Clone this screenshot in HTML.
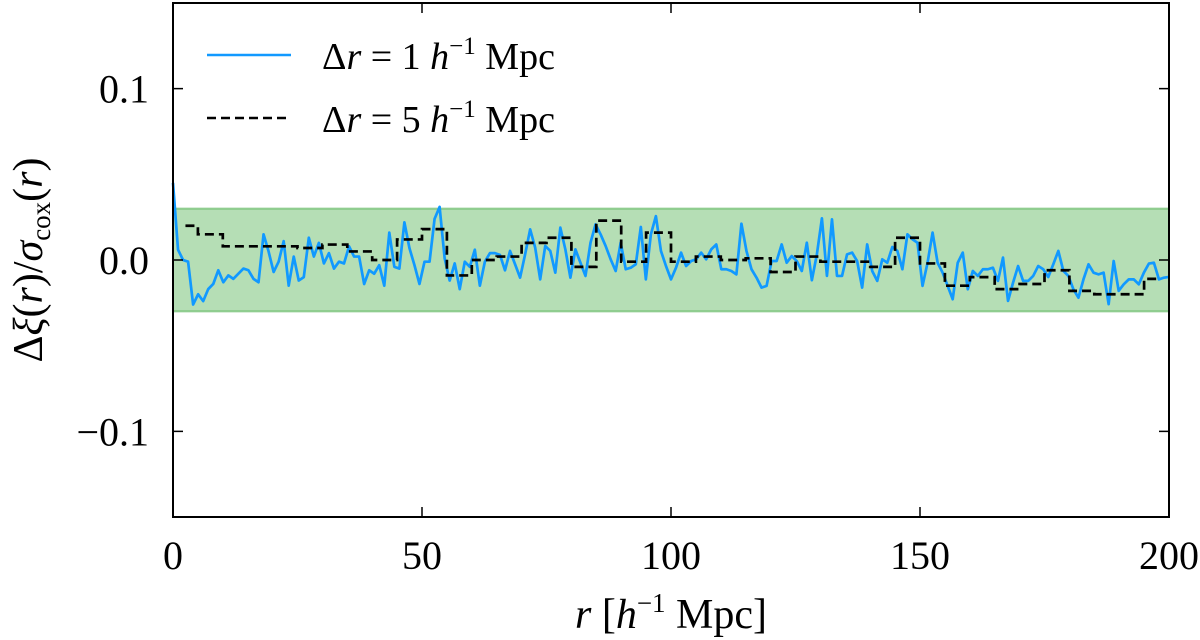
<!DOCTYPE html>
<html><head><meta charset="utf-8">
<style>
html,body{margin:0;padding:0;background:#fff;}
svg{display:block;font-family:"Liberation Serif","DejaVu Serif",serif;}
</style></head>
<body>
<svg id="chart" width="1200" height="640" viewBox="0 0 1200 640" xmlns="http://www.w3.org/2000/svg">
<rect x="0" y="0" width="1200" height="640" fill="#fff"/>
<g id="plot"></g>
<g id="axes"></g>
<g>
  <line x1="207" y1="55" x2="291" y2="55" stroke="#1199ff" stroke-width="2.5"/>
  <text x="322" y="69" font-size="38"><tspan>Δ</tspan><tspan font-style="italic">r</tspan> = 1 <tspan font-style="italic">h</tspan><tspan font-size="25" dy="-15">−1</tspan><tspan dy="15"> Mpc</tspan></text>
  <line x1="207" y1="118" x2="291" y2="118" stroke="#000" stroke-width="2.5" stroke-dasharray="9,5"/>
  <text x="322" y="132" font-size="38"><tspan>Δ</tspan><tspan font-style="italic">r</tspan> = 5 <tspan font-style="italic">h</tspan><tspan font-size="25" dy="-15">−1</tspan><tspan dy="15"> Mpc</tspan></text>
</g>
<text x="671" y="628" font-size="42" text-anchor="middle"><tspan font-style="italic">r</tspan> [<tspan font-style="italic">h</tspan><tspan font-size="27" dy="-16">−1</tspan><tspan dy="16"> Mpc]</tspan></text>
<text transform="translate(42,260) rotate(-90)" font-size="42" text-anchor="middle">Δ<tspan font-style="italic">ξ</tspan>(<tspan font-style="italic">r</tspan>)/<tspan font-style="italic">σ</tspan><tspan font-size="27" dy="8">cox</tspan><tspan dy="-8">(</tspan><tspan font-style="italic">r</tspan>)</text>
</svg>
<script>
const xTicks=[0,50,100,150,200];
const yTicks=[-0.1,0,0.1];
const yTickLabels=["−0.1","0.0","0.1"];
const bandLimits=[-0.03,0.03];
const binnedValues=[0.020,0.015,0.008,0.008,0.008,0.007,0.009,0.005,0.000,0.012,0.018,-0.009,0.000,0.002,0.010,0.013,-0.004,0.023,-0.001,0.016,-0.001,0.002,0.000,0.001,-0.007,0.002,-0.001,-0.001,-0.004,0.013,-0.002,-0.015,-0.010,-0.017,-0.014,-0.006,-0.018,-0.020,-0.020,-0.011];
const fineValues=[0.045,0.006,0.000,-0.001,-0.026,-0.020,-0.024,-0.017,-0.014,-0.006,-0.013,-0.009,-0.011,-0.008,-0.005,-0.006,-0.011,-0.013,0.015,0.005,-0.007,-0.001,0.011,-0.015,0.002,-0.012,-0.010,0.013,0.002,0.010,-0.002,0.004,-0.005,-0.001,-0.002,0.008,0.002,0.002,-0.014,-0.006,-0.008,-0.003,-0.015,0.016,-0.004,-0.005,0.022,0.007,-0.003,-0.014,-0.001,-0.001,0.024,0.031,0.001,-0.012,-0.002,-0.017,-0.001,-0.004,0.006,-0.015,-0.001,0.004,0.004,0.003,-0.006,
0.0053,-0.0025,-0.0103,0.0033,0.0179,0.0072,-0.0113,0.0082,0.0053,-0.0074,0.0189,0.0062,-0.0103,0.0062,-0.0016,-0.0093,0.0101,0.0208,0.0150,0.0082,0.0004,-0.0064,0.0101,-0.0054,-0.0045,-0.0025,0.0193,-0.0113,0.0150,0.0256,0.0053,-0.0035,-0.0113,-0.0045,0.0043,-0.0035,-0.0006,0.0004,0.0043,0.0004,0.0062,0.0091,-0.0054,-0.0054,-0.0064,-0.0084,0.0212,0.0053,-0.0054,-0.0103,-0.0161,-0.0151,-0.0006,-0.0006,0.0091,-0.0016,0.0023,-0.0006,-0.0064,0.0101,-0.0118,0.0033,0.0243,-0.0093,
0.0237,-0.0093,-0.0093,0.0033,0.0043,-0.0006,-0.0161,0.0091,-0.0064,-0.0122,0.0004,-0.0016,0.0076,0.0053,-0.0054,0.0150,0.0121,0.0101,-0.0151,-0.0016,0.0160,-0.0016,-0.0074,-0.0151,-0.0229,-0.0016,0.0043,-0.0171,-0.0064,-0.0093,-0.0054,-0.0054,-0.0045,-0.0122,0.0014,-0.0239,-0.0132,-0.0035,-0.0122,-0.0122,-0.0093,-0.0035,-0.0054,-0.0099,-0.0025,0.0053,-0.0064,-0.0093,-0.0171,-0.0220,-0.0113,-0.0025,-0.0074,-0.0084,-0.0074,-0.0258,-0.0006,-0.0180,-0.0142,-0.0113,-0.0113,-0.0142,-0.0074,-0.0021,-0.0016,-0.0113,-0.0103,-0.0099];

const NS="http://www.w3.org/2000/svg";
const L=173,R=1169,T=3,B=517,X0=0,X1=200,Y0=-0.15,Y1=0.15;
const xs=v=>L+(v-X0)/(X1-X0)*(R-L);
const ys=v=>B-(v-Y0)/(Y1-Y0)*(B-T);
function mk(tag,attrs,parent){const e=document.createElementNS(NS,tag);for(const k in attrs)e.setAttribute(k,attrs[k]);parent.appendChild(e);return e;}
const plot=document.getElementById('plot'),axes=document.getElementById('axes');

const band=mk('rect',{x:L,y:ys(bandLimits[1]),width:R-L,height:ys(bandLimits[0])-ys(bandLimits[1]),fill:'rgba(44,160,44,0.35)',stroke:'rgba(44,160,44,0.45)','stroke-width':2},plot);



const n=fineValues.length;
let d='';
fineValues.forEach((v,i)=>{const r=i*(X1-X0)/(n-1);d+=(i?'L':'M')+xs(r).toFixed(2)+' '+ys(v).toFixed(2);});
const fine=mk('path',{d:d,fill:'none',stroke:'#1199ff','stroke-width':2.7,'stroke-linejoin':'round'},plot);



const w=5;let d2='';
binnedValues.forEach((v,i)=>{const c=w*(i+0.5);
 const a=i===0?c:w*i, b=i===binnedValues.length-1?c:w*(i+1);
 d2+=(i?'L':'M')+xs(a).toFixed(2)+' '+ys(v).toFixed(2)+'L'+xs(b).toFixed(2)+' '+ys(v).toFixed(2);});
const binned=mk('path',{d:d2,fill:'none',stroke:'#000','stroke-width':2.7,'stroke-dasharray':'9,5'},plot);



const frame=mk('rect',{x:L,y:T,width:R-L,height:B-T,fill:'none',stroke:'#000','stroke-width':2},axes);



xTicks.forEach(t=>{const x=xs(t);
 const tk=mk('path',{d:`M${x} ${B}V${B-10}M${x} ${T}V${T+10}`,stroke:'#000','stroke-width':1.5},axes);
 
 
 const lb=mk('text',{x:x,y:B+52,'font-size':40,'text-anchor':'middle'},axes);lb.textContent=String(t);
 
 
});
yTicks.forEach((t,i)=>{const y=ys(t);
 const tk=mk('path',{d:`M${L} ${y}H${L+10}M${R} ${y}H${R-10}`,stroke:'#000','stroke-width':1.5},axes);
 
 
 const lb=mk('text',{x:L-24,y:y+14,'font-size':40,'text-anchor':'end'},axes);lb.textContent=yTickLabels[i];
 
 
});
</script>
</body></html>
